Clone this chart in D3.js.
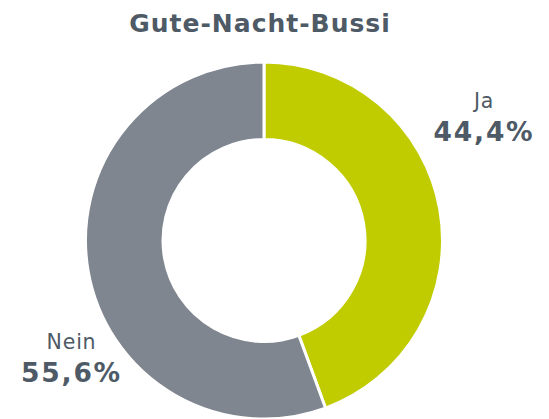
<!DOCTYPE html>
<html>
<head>
<meta charset="utf-8">
<script src="https://cdn.jsdelivr.net/npm/d3@7"></script>
<style>
  html, body { margin: 0; padding: 0; background: #fff; }
  svg { display: block; }
</style>
</head>
<body>
<svg id="chart" width="549" height="419"></svg>
<script>
// Answers and their shares (percent)
const categories = ["Ja", "Nein"];
const values = [44.4, 55.6];
const valueLabels = ["44,4%", "55,6%"];
const colors = ["#c0cc00", "#7f868f"];

const width = 549, height = 419;
const cx = 264, cy = 240.5;
const outerR = 178.5, innerR = 101;
const textColor = "#4e5a66";
const font = "'DejaVu Sans', Verdana, sans-serif";

const svg = d3.select("#chart");

svg.append("text")
  .attr("x", 260)
  .attr("y", 31.5)
  .attr("text-anchor", "middle")
  .attr("font-family", font)
  .attr("font-weight", "bold")
  .attr("font-size", 25)
  .attr("letter-spacing", 1)
  .attr("fill", textColor)
  .text("Gute-Nacht-Bussi");

const data = categories.map((c, i) => ({ cat: c, value: values[i], label: valueLabels[i], color: colors[i] }));

const pie = d3.pie().value(d => d.value).sort(null);
const arc = d3.arc().innerRadius(innerR).outerRadius(outerR);

const g = svg.append("g").attr("transform", `translate(${cx},${cy})`);

g.selectAll("path")
  .data(pie(data))
  .join("path")
  .attr("d", arc)
  .attr("fill", d => d.data.color)
  .attr("stroke", "#fff")
  .attr("stroke-width", 3);

// Outside labels: category name above, share below
const labelPos = { "Ja": [484, 108, 140.5], "Nein": [71.5, 349, 382] };
data.forEach(d => {
  const [x, y1, y2] = labelPos[d.cat];
  svg.append("text")
    .attr("x", x).attr("y", y1)
    .attr("text-anchor", "middle")
    .attr("font-family", font)
    .attr("font-size", 20.5)
    .attr("letter-spacing", 0.8)
    .attr("fill", textColor)
    .text(d.cat);
  svg.append("text")
    .attr("x", x).attr("y", y2)
    .attr("text-anchor", "middle")
    .attr("font-family", font)
    .attr("font-weight", "bold")
    .attr("font-size", 26.5)
    .attr("letter-spacing", 1.8)
    .attr("fill", textColor)
    .text(d.label);
});
</script>
</body>
</html>
